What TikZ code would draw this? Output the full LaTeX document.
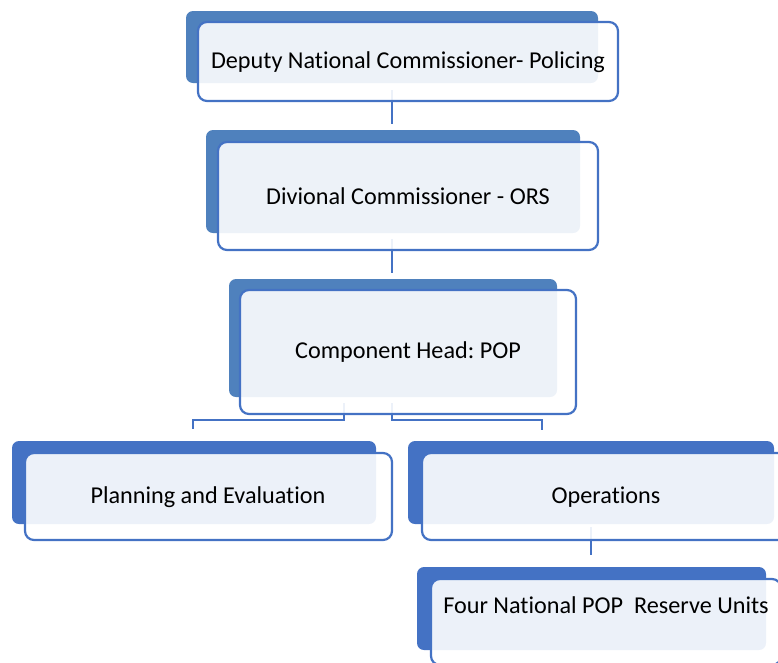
\documentclass[tikz,border=0pt]{standalone}
\usepackage{fontspec}
\setmainfont{Carlito}[Ligatures={NoCommon}]
\usepackage{tikz}
\usetikzlibrary{calc}
\definecolor{boxblue}{HTML}{4F81BD}
\definecolor{deepblue}{HTML}{4472C4}
\frenchspacing
\tikzset{
  backbox/.style={rectangle, rounded corners=7pt, fill=#1, inner sep=0pt},
  frontbox/.style={rectangle, rounded corners=9pt, fill=white, fill opacity=0.9, draw=deepblue, draw opacity=1, line width=2.2pt, inner sep=0pt},
  caption/.style={inner sep=0pt, font=\fontsize{24.2}{29}\selectfont},
  link/.style={draw=deepblue, line width=2.4pt}
}

\begin{document}
\begin{tikzpicture}[x=1pt, y=-1pt]
            \clip (0,0) rectangle (778,662);
            \node [backbox=boxblue, minimum width=412pt, minimum height=72pt] (deputy-back) at (392,47) {};
            \node [backbox=boxblue, minimum width=374pt, minimum height=103pt] (divisional-back) at (393,181.5) {};
            \node [backbox=boxblue, minimum width=328pt, minimum height=118pt] (component-back) at (393,338) {};
            \node [backbox=deepblue, minimum width=364pt, minimum height=83pt] (planning-back) at (194,482.5) {};
            \node [backbox=deepblue, minimum width=366pt, minimum height=83pt] (operations-back) at (591,482.5) {};
            \node [backbox=deepblue, minimum width=349pt, minimum height=83pt] (reserve-back) at (591.5,608.5) {};
            \draw [link] ($(deputy-back.south)+(0,7)$) -- ($(divisional-back.north)+(-1,-6)$);
            \draw [link] ($(divisional-back.south)+(-1,6)$) -- ($(component-back.north)+(-1,-6)$);
            \draw [link] ($(component-back.south)+(-49,6)$) |- ($(planning-back.north)+(-1,-21)$)
                  -- ($(planning-back.north)+(-1,-12)$);
            \draw [link] ($(component-back.south)+(-1,6)$) |- ($(operations-back.north)+(-49,-21)$)
                  -- ($(operations-back.north)+(-49,-11)$);
            \draw [link] ($(operations-back.south)+(0,3)$) -- ($(reserve-back.north)+(-0.5,-12)$);
            \node [frontbox, minimum width=420pt, minimum height=79pt] (deputy-front) at (408,61.5) {};
            \node [frontbox, minimum width=380pt, minimum height=108pt] (divisional-front) at (408,196) {};
            \node [frontbox, minimum width=336pt, minimum height=124pt] (component-front) at (408,352) {};
            \node [frontbox, minimum width=367pt, minimum height=87pt] (planning-front) at (208.5,496.5) {};
            \node [frontbox, minimum width=368pt, minimum height=87pt] (operations-front) at (606,496.5) {};
            \node [frontbox, minimum width=350pt, minimum height=86pt] (reserve-front) at (606,622) {};
            \node [caption] (deputy-text) at (408,62) {Deputy National Commissioner- Policing};
            \node [caption] (divisional-text) at (408,196) {Divional Commissioner - ORS};
            \node [caption] (component-text) at (408,352) {Component Head: POP};
            \node [caption] (planning-text) at (208,497) {Planning and Evaluation};
            \node [caption] (operations-text) at (606,497) {Operations};
            \node [caption] (reserve-text) at (606,605) {Four National POP\ \ Reserve Units};
\end{tikzpicture}
\end{document}
